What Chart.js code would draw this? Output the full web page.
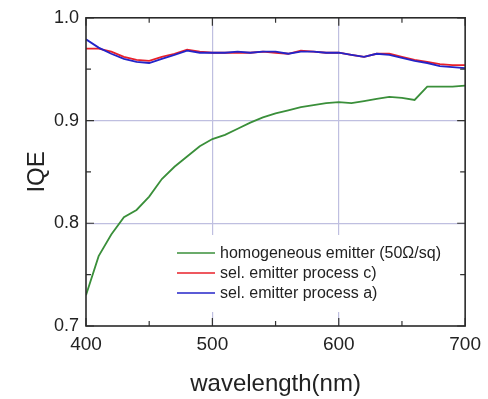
<!DOCTYPE html>
<html>
<head>
<meta charset="utf-8">
<script src="https://cdn.jsdelivr.net/npm/chart.js@4/dist/chart.umd.min.js"></script>
<style>
  html, body { margin: 0; padding: 0; background: #fff; }
  #wrap { width: 488px; height: 399px; }
</style>
</head>
<body>
<div id="wrap"><canvas id="iqeChart" width="488" height="399"></canvas></div>
<script>
// wavelength in nm
const wavelength = [400, 410, 420, 430, 440, 450, 460, 470, 480, 490, 500, 510, 520, 530, 540, 550,
  560, 570, 580, 590, 600, 610, 620, 630, 640, 650, 660, 670, 680, 690, 700]

const homogeneous = [0.730, 0.768, 0.789, 0.806, 0.813, 0.826, 0.843, 0.855, 0.865, 0.875, 0.882, 0.886,
  0.892, 0.898, 0.903, 0.907, 0.910, 0.913, 0.915, 0.917, 0.918, 0.917, 0.919, 0.921, 0.923, 0.922,
  0.920, 0.933, 0.933, 0.933, 0.934]

const processC = [0.970, 0.970, 0.967, 0.962, 0.959, 0.958, 0.962, 0.965, 0.969, 0.967, 0.966, 0.966,
  0.966, 0.966, 0.967, 0.966, 0.965, 0.968, 0.967, 0.966, 0.966, 0.964, 0.962, 0.965, 0.965, 0.962,
  0.959, 0.957, 0.955, 0.954, 0.954]

const processA = [0.979, 0.971, 0.965, 0.960, 0.957, 0.956, 0.960, 0.964, 0.968, 0.966, 0.966, 0.966,
  0.967, 0.966, 0.967, 0.967, 0.965, 0.967, 0.967, 0.966, 0.966, 0.964, 0.962, 0.965, 0.964, 0.961,
  0.958, 0.956, 0.953, 0.952, 0.951]

const seriesLabels = ['homogeneous emitter (50\u03A9/sq)', 'sel. emitter process c)', 'sel. emitter process a)']
const xTicks = [400, 500, 600, 700]
const yTicks = [0.7, 0.8, 0.9, 1.0]

const FONT = "'Liberation Sans', Arial, Helvetica, sans-serif"
const toPoints = (ys) => wavelength.map((x, i) => ({ x: x, y: ys[i] }))

// frame, inward ticks and the boxed legend
const framePlugin = {
  id: 'frame',
  afterDraw(chart) {
    const ctx = chart.ctx
    const { left, right, top, bottom } = chart.chartArea
    const xs = chart.scales.x
    const ys = chart.scales.y
    ctx.save()

    // legend
    ctx.fillStyle = '#fff'
    ctx.fillRect(165, 235, right - 166, 77)
    chart.data.datasets.forEach((ds, i) => {
      const y = 253 + i * 20
      ctx.strokeStyle = ds.borderColor
      ctx.lineWidth = 1.6
      ctx.beginPath()
      ctx.moveTo(177, y)
      ctx.lineTo(215, y)
      ctx.stroke()
      ctx.fillStyle = '#222'
      ctx.font = '16px ' + FONT
      ctx.textBaseline = 'middle'
      ctx.fillText(ds.label, 220, y + 1)
    })

    // ticks
    ctx.strokeStyle = '#333'
    ctx.lineWidth = 1.2
    ctx.beginPath()
    for (let v = 400; v <= 700; v += 50) {
      const px = xs.getPixelForValue(v)
      const len = v % 100 === 0 ? 8 : 5
      ctx.moveTo(px, bottom); ctx.lineTo(px, bottom - len)
      ctx.moveTo(px, top); ctx.lineTo(px, top + len)
    }
    for (let k = 0; k <= 6; k++) {
      const v = 0.7 + k * 0.05
      const py = ys.getPixelForValue(v)
      const len = k % 2 === 0 ? 8 : 5
      ctx.moveTo(left, py); ctx.lineTo(left + len, py)
      ctx.moveTo(right, py); ctx.lineTo(right - len, py)
    }
    ctx.stroke()

    // frame
    ctx.strokeStyle = '#2a2a2a'
    ctx.lineWidth = 1.6
    ctx.strokeRect(left, top, right - left, bottom - top)
    ctx.restore()
  }
}

const ctx = document.getElementById('iqeChart')
new Chart(ctx, {
  type: 'line',
  data: {
    datasets: [
      { label: seriesLabels[0], data: toPoints(homogeneous), borderColor: '#3a8f3a', order: 3 },
      { label: seriesLabels[1], data: toPoints(processC), borderColor: '#e8202a', order: 2 },
      { label: seriesLabels[2], data: toPoints(processA), borderColor: '#2424c8', order: 1 }
    ]
  },
  options: {
    responsive: false,
    animation: false,
    layout: { padding: { left: 0, right: 22, top: 17, bottom: 0 } },
    elements: {
      point: { radius: 0 },
      line: { borderWidth: 1.8, tension: 0, fill: false }
    },
    plugins: {
      legend: { display: false },
      tooltip: { enabled: false }
    },
    scales: {
      x: {
        type: 'linear',
        min: 400,
        max: 700,
        afterBuildTicks: (scale) => { scale.ticks = xTicks.map(v => ({ value: v })) },
        afterFit: (scale) => { scale.height = 73 },
        border: { display: false },
        grid: {
          drawTicks: false,
          color: (c) => (c.tick && (c.tick.value === 500 || c.tick.value === 600)) ? '#bfbfe0' : 'rgba(0,0,0,0)',
          lineWidth: 1.2
        },
        ticks: { color: '#222', padding: 7, font: { family: FONT, size: 19 } },
        title: {
          display: true,
          text: 'wavelength(nm)',
          color: '#222',
          padding: { top: 0, bottom: 0 },
          font: { family: FONT, size: 24 }
        }
      },
      y: {
        type: 'linear',
        min: 0.7,
        max: 1.0,
        afterBuildTicks: (scale) => { scale.ticks = yTicks.map(v => ({ value: v })) },
        afterFit: (scale) => { scale.width = 86 },
        border: { display: false },
        grid: {
          drawTicks: false,
          color: (c) => (c.tick && (Math.abs(c.tick.value - 0.8) < 1e-6 || Math.abs(c.tick.value - 0.9) < 1e-6)) ? '#bfbfe0' : 'rgba(0,0,0,0)',
          lineWidth: 1.2
        },
        ticks: {
          color: '#222',
          padding: 7,
          font: { family: FONT, size: 18 },
          callback: (v) => Number(v).toFixed(1)
        },
        title: {
          display: true,
          text: 'IQE',
          color: '#222',
          padding: { top: 23, bottom: 0 },
          font: { family: FONT, size: 24 }
        }
      }
    }
  },
  plugins: [framePlugin]
})
</script>
</body>
</html>
